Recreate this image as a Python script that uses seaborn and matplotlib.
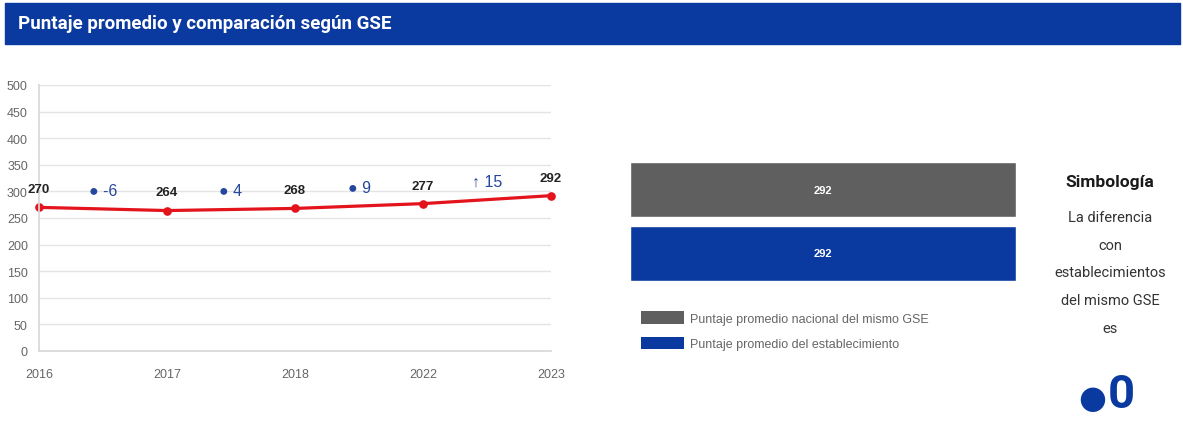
"""Puntaje promedio y comparación según GSE — line chart, bars and symbology panel."""
import matplotlib

matplotlib.use("Agg")
import matplotlib.pyplot as plt
import pandas as pd
import seaborn as sns
from matplotlib.patches import Patch, Rectangle

# ---- data -------------------------------------------------------------
years = ["2016", "2017", "2018", "2022", "2023"]
scores = [270, 264, 268, 277, 292]
diff_values = [-6, 4, 9, 15]
diff_symbols = ["●", "●", "●", "↑"]

bar_labels = ["Puntaje promedio nacional del mismo GSE",
              "Puntaje promedio del establecimiento"]
bar_values = [292, 292]

title = "Puntaje promedio y comparación según GSE"
symb_title = "Simbología"
symb_lines = ["La diferencia", "con", "establecimientos", "del mismo GSE", "es"]
symb_mark = "●"
symb_value = "0"

# ---- style ------------------------------------------------------------
BLUE = "#0a3aa0"
GREY = "#5f5f5f"
RED = "#e3141c"
DIFF_BLUE = "#26489c"

sns.set_theme(style="white")
plt.rcParams["font.family"] = ["Liberation Sans", "DejaVu Sans"]

W, H = 1183, 435
fig = plt.figure(figsize=(W / 100, H / 100), dpi=100)
fig.patch.set_facecolor("white")


def px(x0, y0, x1, y1):
    return [x0 / W, 1 - y1 / H, (x1 - x0) / W, (y1 - y0) / H]


def fx(x):
    return x / W


def fy(y):
    return 1 - y / H


# title banner
fig.patches.append(Rectangle((fx(5), fy(45)), 1175 / W, 41 / H,
                             transform=fig.transFigure, color=BLUE, zorder=0))
fig.text(fx(18), fy(24), title, color="white", fontsize=13.5,
         fontweight="bold", family=["Roboto", "DejaVu Sans"], va="center")

# ---- line chart -------------------------------------------------------
df = pd.DataFrame({"year": years, "score": scores})
ax = fig.add_axes(px(39, 86, 551, 352))
sns.pointplot(data=df, x="year", y="score", color=RED, markers="o",
              markersize=4.5, linewidth=2.3, ax=ax)
ax.set_xlim(0, len(years) - 1)
ax.set_ylim(0, 500)
ax.set_yticks(range(0, 501, 50))
ax.grid(axis="y", color="#e4e4e4", linewidth=1)
ax.set_axisbelow(True)
for side in ["top", "right"]:
    ax.spines[side].set_visible(False)
ax.spines["left"].set_color("#d8d8d8")
ax.spines["bottom"].set_color("#d8d8d8")
ax.tick_params(axis="y", length=0, pad=8, labelsize=9, labelcolor="#666666")
ax.tick_params(axis="x", length=0, pad=12, labelsize=9, labelcolor="#666666")
ax.set_xlabel("")
ax.set_ylabel("")
for line in ax.lines:
    line.set_clip_on(False)
for coll in ax.collections:
    coll.set_clip_on(False)

for i, v in enumerate(scores):
    ax.annotate(str(v), (i, v), xytext=(0, 13), textcoords="offset points",
                ha="center", va="center", fontsize=9.5, fontweight="bold",
                color="#222222", annotation_clip=False)

for i, (sym, d) in enumerate(zip(diff_symbols, diff_values)):
    mid = (scores[i] + scores[i + 1]) / 2
    ax.annotate(f"{sym} {d}", (i + 0.5, mid), xytext=(0, 13.5),
                textcoords="offset points", ha="center", va="center",
                fontsize=11.5, color=DIFF_BLUE,
                family=["Liberation Sans", "DejaVu Sans"])

# ---- bars -------------------------------------------------------------
bdf = pd.DataFrame({"label": bar_labels, "value": bar_values})
axb = fig.add_axes(px(630, 163, 1016, 282))
sns.barplot(data=bdf, x="value", y="label", hue="label",
            palette=[GREY, BLUE], orient="h", width=0.866, legend=False,
            saturation=1, ax=axb)
axb.set_xlim(0, max(bar_values))
axb.set_ylim(1.437, -0.437)
axb.axis("off")
for cont in axb.containers:
    axb.bar_label(cont, label_type="center", color="white", fontsize=8,
                  fontweight="bold")

handles = [Patch(facecolor=GREY, edgecolor="none"),
           Patch(facecolor=BLUE, edgecolor="none")]
fig.legend(handles, bar_labels, loc="upper left",
           bbox_to_anchor=(fx(641), fy(312)), frameon=False, borderpad=0,
           borderaxespad=0, handlelength=3.4, handleheight=1.2,
           handletextpad=0.55, labelspacing=0.95, fontsize=9,
           labelcolor="#666666")

# ---- symbology panel --------------------------------------------------
cx = fx(1110)
fig.text(cx, fy(183), symb_title, ha="center", va="center", fontsize=12.5,
         fontweight="bold", color="#1a1a1a", family=["Roboto", "DejaVu Sans"])
for k, line in enumerate(symb_lines):
    fig.text(cx, fy(218 + k * 27.7), line, ha="center", va="center",
             fontsize=10.5, color="#333333", family=["Roboto", "DejaVu Sans"])
fig.text(fx(1106), fy(408), symb_mark, ha="right", va="baseline", fontsize=23,
         color=BLUE, family=["DejaVu Sans"])
fig.text(fx(1108), fy(408), symb_value, ha="left", va="baseline", fontsize=34,
         fontweight="bold", color=BLUE, family=["Roboto", "DejaVu Sans"])

fig.savefig("out.png", dpi=100)
